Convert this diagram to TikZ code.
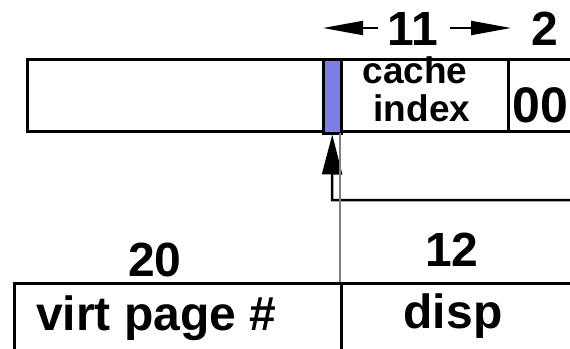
\documentclass[tikz,border=0pt]{standalone}
\usepackage{fontspec}
\setmainfont{Liberation Sans}
\usetikzlibrary{arrows.meta}
\definecolor{barblue}{RGB}{125,125,230}
\definecolor{linegray}{RGB}{128,128,128}
\tikzset{
  frame/.style={draw=black,line width=3pt},
  lbl/.style={inner sep=0pt,anchor=base,font=\bfseries\fontsize{48}{48}\selectfont},
  small/.style={inner sep=0pt,anchor=base,font=\bfseries\fontsize{37}{37}\selectfont},
  widtharrow/.style={line width=2pt,-{Triangle[length=40pt,width=14pt]}},
}
\begin{document}
\begin{tikzpicture}[x=1pt,y=-1pt]
\useasboundingbox (0,0) rectangle (570,348);
% top register
\draw[frame] (580,59) -- (27,59) -- (27,131) -- (580,131);
\draw[frame] (508,59) -- (508,131);
\node[draw=black,line width=2.5pt,fill=barblue,minimum width=18pt,minimum height=74pt,inner sep=0pt,anchor=north west] (bar) at (322,58) {};
\node[small] (cache) at (415,83) {cache};
\node[small] (index) at (422,121) {index};
\node[lbl,anchor=base west,font=\bfseries\fontsize{50}{50}\selectfont] (zz) at (512,122) {00};
% widths
\node[lbl] (n11) at (413,45) {11};
\node[lbl] (n2) at (545,45) {2};
\coordinate (la) at (378,28);
\coordinate (lt) at (323,28);
\coordinate (ra) at (450,28);
\coordinate (rt) at (511,28);
\draw[widtharrow] (la) -- (lt);
\draw[widtharrow] (ra) -- (rt);
% feedback arrow
\coordinate (fs) at (575,200);
\coordinate (fc) at (332,200);
\draw[line width=2.5pt,-{Triangle[length=40pt,width=20pt]}] (fs) -- (fc) -- (bar.south);
% gray line
\coordinate (gtop) at (340,133);
\coordinate (gbot) at (340,283);
\draw[linegray,line width=2pt] (gtop) -- (gbot);
% bottom register
\draw[frame] (580,283) -- (14,283) -- (14,360);
\draw[frame] (341,283) -- (341,360);
\node[lbl] (n20) at (155,276) {20};
\node[lbl] (n12) at (452,266) {12};
\node[lbl,anchor=base west] (vpn) at (36,330) {virt page \#};
\node[lbl] (disp) at (453,328) {disp};
\end{tikzpicture}
\end{document}
